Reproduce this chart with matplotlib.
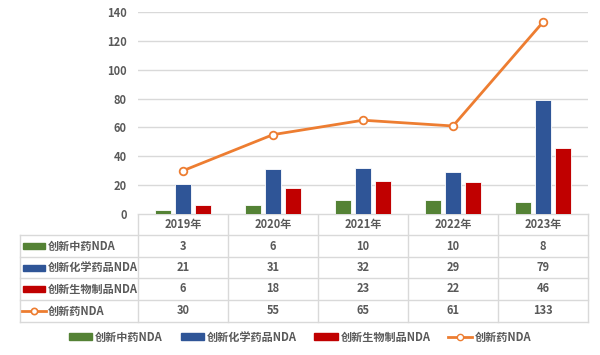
import matplotlib
matplotlib.use("Agg")
import matplotlib.pyplot as plt
import numpy as np
from matplotlib.patches import Rectangle
from matplotlib.lines import Line2D

plt.rcParams['font.family'] = ['Noto Sans CJK SC', 'DejaVu Sans']

years = ["2019年", "2020年", "2021年", "2022年", "2023年"]
series_names = ["创新中药NDA", "创新化学药品NDA", "创新生物制品NDA", "创新药NDA"]
tcm = [3, 6, 10, 10, 8]
chem = [21, 31, 32, 29, 79]
bio = [6, 18, 23, 22, 46]
total = [30, 55, 65, 61, 133]
yticks = [0, 20, 40, 60, 80, 100, 120, 140]

colors = ["#548235", "#2F5597", "#C00000", "#ED7D31"]
txt = "#595959"
grid = "#D9D9D9"
fs = 8

W, H = 600, 355
fig = plt.figure(figsize=(W / 100, H / 100), dpi=100)

L, R, T, B = 138, 588, 12, 214
ax = fig.add_axes([L / W, 1 - B / H, (R - L) / W, (B - T) / H])
x = np.arange(len(years))
bw = 0.178
step = 0.222
for i, (vals, c) in enumerate(zip([tcm, chem, bio], colors[:3])):
    ax.bar(x + (i - 1) * step, vals, width=bw, color=c, edgecolor="white", linewidth=0.6, zorder=3)
ax.plot(x, total, color=colors[3], lw=2, marker="o", ms=5.5, mfc="white", mec=colors[3], mew=1.3, zorder=4)
ax.set_xlim(-0.5, len(years) - 0.5)
ax.set_ylim(0, 140)
ax.set_yticks(yticks)
ax.set_yticklabels([str(v) for v in yticks], color=txt, fontsize=fs, fontweight="bold")
ax.tick_params(axis="y", length=0, pad=8)
ax.set_xticks([])
ax.grid(axis="y", color=grid, lw=1, zorder=0)
for s in ax.spines.values():
    s.set_visible(False)

# table overlay in pixel coordinates
ov = fig.add_axes([0, 0, 1, 1], zorder=-1)
ov.set_xlim(0, W)
ov.set_ylim(H, 0)
ov.axis("off")
tl = 20
rows_y = [214, 235, 257, 278, 300, 322]
colw = (R - L) / len(years)
ov.plot([L, R], [rows_y[0], rows_y[0]], color=grid, lw=1)
for yy in rows_y[1:]:
    ov.plot([tl, R], [yy, yy], color=grid, lw=1)
for k in range(len(years) + 1):
    xx = L + k * colw
    ov.plot([xx, xx], [rows_y[0], rows_y[-1]], color=grid, lw=1)
ov.plot([tl, tl], [rows_y[1], rows_y[-1]], color=grid, lw=1)

for k, yr in enumerate(years):
    ov.text(L + (k + 0.5) * colw, (rows_y[0] + rows_y[1]) / 2, yr, ha="center", va="center",
            color=txt, fontsize=fs, fontweight="bold")
data = [tcm, chem, bio, total]
for r, (name, vals) in enumerate(zip(series_names, data)):
    yc = (rows_y[r + 1] + rows_y[r + 2]) / 2
    if r < 3:
        ov.add_patch(Rectangle((23, yc - 3), 22, 6, color=colors[r]))
    else:
        ov.plot([22, 46], [yc, yc], color=colors[3], lw=2)
        ov.plot([34], [yc], marker="o", ms=4.5, mfc="white", mec=colors[3], mew=1.2)
    ov.text(48, yc, name, ha="left", va="center", color=txt, fontsize=fs, fontweight="bold")
    for k, v in enumerate(vals):
        ov.text(L + (k + 0.5) * colw, yc, str(v), ha="center", va="center",
                color=txt, fontsize=fs, fontweight="bold")

handles = [Rectangle((0, 0), 1, 1, color=c) for c in colors[:3]]
handles.append(Line2D([], [], color=colors[3], lw=2, marker="o", ms=4.5, mfc="white", mec=colors[3]))
leg = fig.legend(handles, series_names, loc="center", bbox_to_anchor=(0.5, 1 - 337 / H), ncol=4,
                 frameon=False, fontsize=fs, handlelength=2.1, handleheight=0.5, columnspacing=1.6,
                 handletextpad=0.25)
for t in leg.get_texts():
    t.set_color(txt)
    t.set_fontweight("bold")

fig.savefig("out.png", dpi=100)
